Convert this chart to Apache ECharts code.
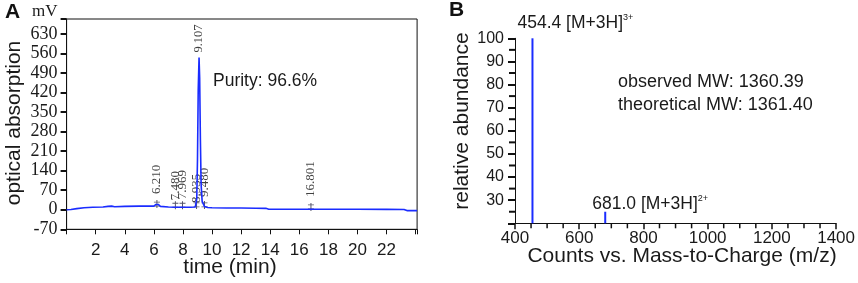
<!DOCTYPE html>
<html><head><meta charset="utf-8">
<script src="https://cdn.jsdelivr.net/npm/echarts@6/dist/echarts.min.js"></script>
<style>html,body{margin:0;padding:0;background:#fff}#c{width:858px;height:283px}</style>
</head><body><div id="c"></div>
<script>
// ---- Panel A: HPLC chromatogram ----
const hplcTime   = [0, 0.3, 0.7, 1.2, 1.8, 2.5, 2.85, 2.98, 3.1, 3.3, 4, 5, 6.0, 6.15, 6.21, 6.3, 6.45, 7.0, 7.48, 7.969, 8.5, 8.85, 8.95, 9.0, 9.05, 9.107, 9.15, 9.2, 9.25, 9.32, 9.48, 9.7, 10, 11, 12, 13, 13.7, 13.9, 15, 16, 16.7, 16.801, 16.9, 17.4, 18, 20, 22, 23.2, 23.4, 24.1];
const hplcSignal = [0, 1, 4, 7, 9, 10, 12, 19, 13, 11, 12, 13, 13, 19, 22, 19, 12, 10, 9, 9, 9, 10, 40, 180, 430, 545, 470, 250, 90, 30, 12, 8, 7, 6.5, 6, 5.5, 5, 2, 2, 2, 2, 4, 2, 2, 2, 2, 1.5, 1, -3, -3];
const peakTimes  = [6.210, 7.480, 7.969, 8.935, 9.480, 16.801];
const peakBase   = [13, 9, 9, 10, 10, 3];
const mainPeakTime = 9.107;
const mainPeakHeight = 545;
const hplcYTicks = [-70, 0, 70, 140, 210, 280, 350, 420, 490, 560, 630];
const hplcXTicks = [2, 4, 6, 8, 10, 12, 14, 16, 18, 20, 22];

// ---- Panel B: mass spectrum ----
const msMz        = [454.4, 681.0];
const msAbundance = [100, 25];
const msIonText   = ['454.4 [M+3H]', '681.0 [M+3H]'];
const msCharge    = ['3+', '2+'];
const msYTicks    = [30, 40, 50, 60, 70, 80, 90, 100];
const msXTicks    = [400, 600, 800, 1000, 1200, 1400];

const SANS = 'Liberation Sans, Arial, Helvetica, sans-serif';
const SERIF = 'Liberation Serif, Times New Roman, serif';
const TXT = '#1a1a1a';
const AX = '#111';
const BLUE = '#1a2cff';

const A_X = [0, 24.1], A_Y = [-70, 683], B_X = [400, 1400], B_Y = [20, 100];
const labelNudge = [2, -3, -2, -6, 0, 2];
const only = list => v => (list.indexOf(Math.round(v * 1000) / 1000) >= 0 ? String(v) : '');
const stepList = (a, b, s) => { const r = []; for (let v = a; v <= b + 1e-9; v += s) r.push(Math.round(v * 1000) / 1000); return r; };

const chart = echarts.init(document.getElementById('c'));
const option = {
  animation: false,
  grid: [
    {left: 66.6, top: 19, width: 350.5, height: 210.3, show: true, borderColor: AX, borderWidth: 1},
    {left: 515, top: 38.3, width: 322.3, height: 185}
  ],
  xAxis: [
    {gridIndex: 0, type: 'value', min: A_X[0], max: A_X[1], interval: 2,
     axisLine: {show: true, onZero: false, lineStyle: {color: AX, width: 1}},
     axisTick: {show: true, inside: false, length: 5, lineStyle: {color: AX, width: 1}},
     axisLabel: {show: true, formatter: only(hplcXTicks), fontFamily: SANS, fontSize: 17, color: TXT, margin: 13},
     splitLine: {show: false}},
    {gridIndex: 1, type: 'value', min: B_X[0], max: B_X[1], interval: 200,
     axisLine: {show: true, onZero: false, lineStyle: {color: AX, width: 1}},
     axisTick: {show: true, inside: false, length: 6, lineStyle: {color: AX, width: 1.5}},
     axisLabel: {show: true, formatter: only(msXTicks), fontFamily: SANS, fontSize: 17, color: TXT, margin: 7},
     splitLine: {show: false}}
  ],
  yAxis: [
    {gridIndex: 0, type: 'value', min: A_Y[0], max: A_Y[1], interval: 70,
     axisLine: {show: true, onZero: false, lineStyle: {color: AX, width: 1}},
     axisTick: {show: true, inside: false, length: 6, lineStyle: {color: AX, width: 2}},
     axisLabel: {show: true, formatter: only(hplcYTicks), fontFamily: SERIF, fontSize: 18, color: TXT, margin: 9},
     splitLine: {show: false}},
    {gridIndex: 1, type: 'value', min: B_Y[0], max: B_Y[1], interval: 10,
     axisLine: {show: true, onZero: false, lineStyle: {color: AX, width: 1}},
     axisTick: {show: true, inside: false, length: 7, lineStyle: {color: AX, width: 2}},
     axisLabel: {show: true, formatter: only(msYTicks), fontFamily: SANS, fontSize: 16, color: TXT, margin: 11},
     splitLine: {show: false}}
  ],
  series: [
    {type: 'line', xAxisIndex: 0, yAxisIndex: 0, showSymbol: false, symbol: 'none',
     lineStyle: {color: BLUE, width: 1.6}, z: 3,
     data: hplcTime.map((t, i) => [t, hplcSignal[i]])},
    {type: 'scatter', xAxisIndex: 0, yAxisIndex: 0, z: 2,
     symbol: 'path://M4,0h1v10h-1z M1.5,2h6v1h-6z M1.5,7h6v1h-6z', symbolSize: [6, 8], symbolOffset: [0, -2],
     itemStyle: {color: '#2a2a44'},
     label: {show: true, position: 'top', rotate: 90, align: 'left', verticalAlign: 'middle', distance: 4,
             fontFamily: SERIF, fontSize: 13, color: '#111', formatter: p => p.value[0].toFixed(3)},
     data: peakTimes.map((t, i) => ({value: [t, peakBase[i]], label: {offset: [labelNudge[i], 0]}}))},
    {type: 'scatter', xAxisIndex: 0, yAxisIndex: 0, z: 4, symbolSize: 0,
     label: {show: true, position: 'top', rotate: 90, align: 'left', verticalAlign: 'middle', distance: 5,
             fontFamily: SERIF, fontSize: 12.5, color: '#111', formatter: p => p.value[0].toFixed(3)},
     data: [[mainPeakTime, mainPeakHeight]]},
    {type: 'bar', xAxisIndex: 1, yAxisIndex: 1, barWidth: 2, itemStyle: {color: BLUE},
     label: {show: true, position: 'top', align: 'left',
             formatter: p => '{a|' + msIonText[p.dataIndex] + '}{s|' + msCharge[p.dataIndex] + '}',
             rich: {a: {fontFamily: SANS, fontSize: 17.5, color: TXT, lineHeight: 20},
                    s: {fontFamily: SANS, fontSize: 9, color: TXT, verticalAlign: 'top', lineHeight: 12}}},
     data: msMz.map((m, i) => ({value: [m, msAbundance[i]], label: {offset: i === 0 ? [-15, 4] : [-13, 4], distance: i === 0 ? 9 : 2}}))}
  ]
};
chart.setOption(option);

const textGraphics = [
  {type: 'text', left: 5, top: 2, style: {text: 'A', font: 'bold 21px ' + SANS, fill: '#111'}},
  {type: 'text', left: 449, top: 0, style: {text: 'B', font: 'bold 21px ' + SANS, fill: '#111'}},
  {type: 'text', x: 32, y: 12, style: {text: 'mV', font: '17px ' + SERIF, fill: TXT, textVerticalAlign: 'middle'}},
  {type: 'text', x: 14, y: 123, rotation: Math.PI / 2,
   style: {text: 'optical absorption', font: '21px ' + SANS, fill: TXT, textAlign: 'center', textVerticalAlign: 'middle'}},
  {type: 'text', x: 230, y: 267,
   style: {text: 'time (min)', font: '21px ' + SANS, fill: TXT, textAlign: 'center', textVerticalAlign: 'middle'}},
  {type: 'text', x: 213, y: 81,
   style: {text: 'Purity: 96.6%', font: '17.5px ' + SANS, fill: TXT, textVerticalAlign: 'middle'}},
  {type: 'text', x: 462, y: 121, rotation: Math.PI / 2,
   style: {text: 'relative abundance', font: '21px ' + SANS, fill: TXT, textAlign: 'center', textVerticalAlign: 'middle'}},
  {type: 'text', x: 682, y: 256,
   style: {text: 'Counts vs. Mass-to-Charge (m/z)', font: '21px ' + SANS, fill: TXT, textAlign: 'center', textVerticalAlign: 'middle'}},
  {type: 'text', x: 618, y: 82,
   style: {text: 'observed MW: 1360.39', font: '18px ' + SANS, fill: TXT, textVerticalAlign: 'middle'}},
  {type: 'text', x: 618, y: 105,
   style: {text: 'theoretical MW: 1361.40', font: '18px ' + SANS, fill: TXT, textVerticalAlign: 'middle'}}
];

// Panel B minor ticks, positioned through the axis scales
const tickGraphics = [];
const finder = {gridIndex: 1};
stepList(B_X[0], B_X[1], 50).filter(v => v % 200 !== 0).forEach(v => {
  const p = chart.convertToPixel(finder, [v, B_Y[0]]);
  if (!p) return;
  tickGraphics.push({type: 'rect', silent: true, z: 50,
    shape: {x: p[0] - 0.75, y: p[1], width: 1.5, height: 5}, style: {fill: AX}});
});
stepList(B_Y[0], B_Y[1], 5).filter(v => v % 10 !== 0).forEach(v => {
  const p = chart.convertToPixel(finder, [B_X[0], v]);
  if (!p) return;
  tickGraphics.push({type: 'rect', silent: true, z: 50,
    shape: {x: p[0] - 6, y: p[1] - 1, width: 6, height: 2}, style: {fill: AX}});
});
chart.setOption({graphic: textGraphics.concat(tickGraphics)});
</script></body></html>
